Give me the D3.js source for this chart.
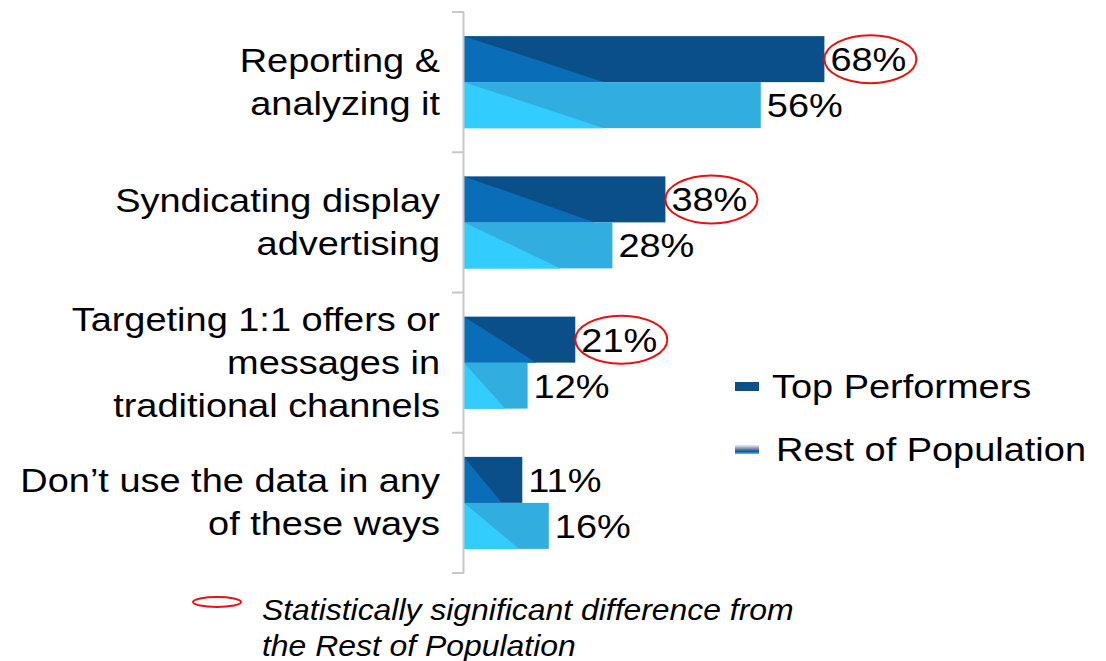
<!DOCTYPE html>
<html>
<head>
<meta charset="utf-8">
<script src="https://cdn.jsdelivr.net/npm/d3@7"></script>
<style>
  body { margin: 0; background: #fff; }
  text { font-family: "Liberation Sans", Arial, sans-serif; fill: #000; }
</style>
</head>
<body>
<div id="chart"></div>
<script>
// data
var categories = [
  ["Reporting &", "analyzing it"],
  ["Syndicating display", "advertising"],
  ["Targeting 1:1 offers or", "messages in", "traditional channels"],
  ["Don\u2019t use the data in any", "of these ways"]
];
var seriesNames = ["Top Performers", "Rest of Population"];
var topPerformers = [68, 38, 21, 11];
var restOfPopulation = [56, 28, 12, 16];
var significant = [true, true, true, false];
var footnote = ["Statistically significant difference from", "the Rest of Population"];

var width = 1106, height = 661;
var stretch = 1.15; // the original text is a bit wider than Arial

var svg = d3.select("#chart").append("svg")
    .attr("width", width)
    .attr("height", height);

// scales
var y = d3.scaleBand()
    .domain(d3.range(categories.length))
    .range([12, 573]);

var x = d3.scaleLinear()
    .domain([0, 100])
    .range([464, 994]);

var barH = 46;

// colours: main fill, lighter triangle
var colors = [
  { main: "#0a4f87", tri: "#0a6db8" },
  { main: "#31ade0", tri: "#33ccff" }
];

var rows = [];
categories.forEach(function(c, i) {
  rows.push({ i: i, s: 0, v: topPerformers[i], sig: significant[i] });
  rows.push({ i: i, s: 1, v: restOfPopulation[i], sig: false });
});

function barTop(d) {
  var c = y(d.i) + y.bandwidth() / 2;
  return d.s === 0 ? c - barH : c;
}

function place(px, py) {
  return "translate(" + px + "," + py + ") scale(" + stretch + ",1)";
}

// bars
var bars = svg.selectAll(".bar")
    .data(rows)
  .enter().append("g")
    .attr("class", "bar");

bars.append("rect")
    .attr("x", x(0))
    .attr("y", barTop)
    .attr("width", function(d) { return x(d.v) - x(0); })
    .attr("height", barH)
    .style("fill", function(d) { return colors[d.s].main; });

// shaded triangle in the lower left of each bar
bars.append("path")
    .attr("d", function(d) {
      var len = x(d.v) - x(0);
      var w = Math.min(140, len * 0.65);
      var t = barTop(d);
      return "M" + x(0) + "," + t + "L" + (x(0) + w) + "," + (t + barH) + "L" + x(0) + "," + (t + barH) + "Z";
    })
    .style("fill", function(d) { return colors[d.s].tri; });

// value labels
bars.append("text")
    .attr("transform", function(d) { return place(x(d.v) + 6, barTop(d) + barH / 2 + 12); })
    .style("font-size", "33px")
    .text(function(d) { return d.v + "%"; });

// red ellipses for significant differences
bars.filter(function(d) { return d.sig; })
  .append("ellipse")
    .attr("cx", function(d) { return x(d.v) + 46; })
    .attr("cy", function(d) { return barTop(d) + barH / 2; })
    .attr("rx", 46)
    .attr("ry", 24)
    .style("fill", "none")
    .style("stroke", "#e81010")
    .style("stroke-width", 2);

// axis line and ticks at band edges
svg.append("line")
    .attr("x1", x(0) - 0.5).attr("x2", x(0) - 0.5)
    .attr("y1", y.range()[0]).attr("y2", y.range()[1])
    .style("stroke", "#c8c8c8").style("stroke-width", 2);

var edges = y.domain().map(function(i) { return y(i); }).concat([y.range()[1]]);
svg.selectAll(".tick")
    .data(edges)
  .enter().append("line")
    .attr("x1", x(0) - 12).attr("x2", x(0))
    .attr("y1", function(d) { return d; }).attr("y2", function(d) { return d; })
    .style("stroke", "#c8c8c8").style("stroke-width", 2);

// category labels
var lineH = 43;
categories.forEach(function(lines, i) {
  var c = y(i) + y.bandwidth() / 2;
  lines.forEach(function(l, j) {
    svg.append("text")
        .attr("class", "cat")
        .attr("text-anchor", "end")
        .attr("transform", place(440, c + (j - (lines.length - 1) / 2) * lineH + 11))
        .style("font-size", "33px")
        .text(l);
  });
});

// legend
var grad = svg.append("defs").append("linearGradient")
    .attr("id", "restGrad")
    .attr("x1", 0).attr("y1", 0).attr("x2", 0).attr("y2", 1);
grad.append("stop").attr("offset", "0%").attr("stop-color", "#f0f0f0");
grad.append("stop").attr("offset", "70%").attr("stop-color", "#1a4f87");
grad.append("stop").attr("offset", "100%").attr("stop-color", "#33ccff");

var legend = svg.selectAll(".legend")
    .data(seriesNames)
  .enter().append("g")
    .attr("class", "legend")
    .attr("transform", function(d, i) { return "translate(735," + (386 + i * 63) + ")"; });

legend.append("rect")
    .attr("x", 0).attr("y", -4)
    .attr("width", 24).attr("height", 9)
    .style("fill", function(d, i) { return i === 0 ? colors[0].main : "url(#restGrad)"; });

legend.append("text")
    .attr("transform", function(d, i) { return place(i === 0 ? 37 : 41, 12); })
    .style("font-size", "33px")
    .text(function(d) { return d; });

// footnote
svg.append("ellipse")
    .attr("cx", 217).attr("cy", 602)
    .attr("rx", 24).attr("ry", 5)
    .style("fill", "none")
    .style("stroke", "#e81010")
    .style("stroke-width", 2);

svg.selectAll(".foot")
    .data(footnote)
  .enter().append("text")
    .attr("class", "foot")
    .attr("transform", function(d, i) { return "translate(262," + (620 + i * 36) + ") scale(1.1,1)"; })
    .style("font-size", "29px")
    .style("font-style", "italic")
    .text(function(d) { return d; });
</script>
</body>
</html>
